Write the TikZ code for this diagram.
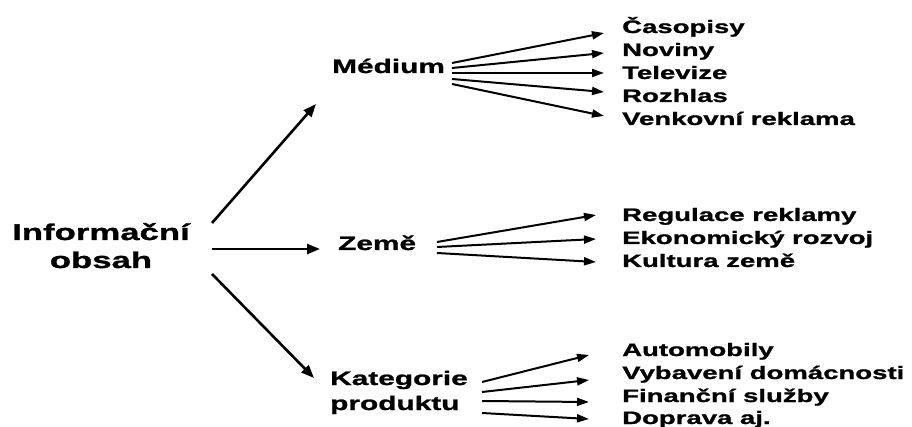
\documentclass[tikz,border=0pt]{standalone}
\usepackage{fontspec}
\newfontfamily\lblfont{Liberation Sans}[FakeStretch=1.53,FakeBold=1.2]
\usetikzlibrary{arrows.meta}
\begin{document}
\begin{tikzpicture}[x=1pt,y=-1pt,
  lbl/.style={inner sep=0pt,anchor=base west,font=\lblfont\bfseries},
  root/.style={lbl,font=\lblfont\bfseries\fontsize{22.7}{28}\selectfont,align=center},
  mid/.style={lbl,font=\lblfont\bfseries\fontsize{19.5}{25}\selectfont,align=left},
  leaf/.style={lbl,font=\lblfont\bfseries\fontsize{18}{23}\selectfont},
  bigarrow/.style={line width=2.6pt,-{Triangle[length=13pt,width=10pt]}},
  fanarrow/.style={line width=2pt,-{Triangle[length=12pt,width=8pt]}}]
\useasboundingbox (0,0) rectangle (912,427);

% labels (multi-line nodes sit on the baseline of their last line)
\node[root] (info) at (12,268) {Informační\\obsah};
\node[mid] (med) at (332,73) {Médium};
\node[mid] (zeme) at (338,250) {Země};
\node[mid] (kat) at (330,410) {Kategorie\\produktu};

\node[leaf] (m1) at (622,33) {Časopisy};
\node[leaf] (m2) at (622,56) {Noviny};
\node[leaf] (m3) at (622,79) {Televize};
\node[leaf] (m4) at (622,102) {Rozhlas};
\node[leaf] (m5) at (622,125) {Venkovní reklama};

\node[leaf] (z1) at (622,221) {Regulace reklamy};
\node[leaf] (z2) at (622,244) {Ekonomický rozvoj};
\node[leaf] (z3) at (622,267) {Kultura země};

\node[leaf] (k1) at (622,356) {Automobily};
\node[leaf] (k2) at (622,379) {Vybavení domácnosti};
\node[leaf] (k3) at (622,402) {Finanční služby};
\node[leaf] (k4) at (622,424) {Doprava aj.};

% main branches
\coordinate (info-up) at (212,223);
\coordinate (info-mid) at (212,249);
\coordinate (info-dn) at (212,274);
\coordinate (med-in) at (316,104);
\coordinate (zeme-in) at (320,249);
\coordinate (kat-in) at (314,378);
\draw[bigarrow] (info-up) -- (med-in);
\draw[bigarrow] (info-mid) -- (zeme-in);
\draw[bigarrow] (info-dn) -- (kat-in);

% medium fan
\foreach \i/\ys/\yt in {1/63/33, 2/68/53, 3/73/73, 4/79/92, 5/84/116} {
  \coordinate (med-o\i) at (452,\ys);
  \coordinate (m\i-in) at (604,\yt);
  \draw[fanarrow] (med-o\i) -- (m\i-in);
}

% country fan
\foreach \i/\ys/\yt in {1/242/215, 2/247/239, 3/253/262} {
  \coordinate (zeme-o\i) at (437,\ys);
  \coordinate (z\i-in) at (596,\yt);
  \draw[fanarrow] (zeme-o\i) -- (z\i-in);
}

% product category fan
\foreach \i/\ys/\yt in {1/382/355, 2/392/380, 3/401/402, 4/413/419} {
  \coordinate (kat-o\i) at (482,\ys);
  \coordinate (k\i-in) at (589,\yt);
  \draw[fanarrow] (kat-o\i) -- (k\i-in);
}
\end{tikzpicture}
\end{document}
